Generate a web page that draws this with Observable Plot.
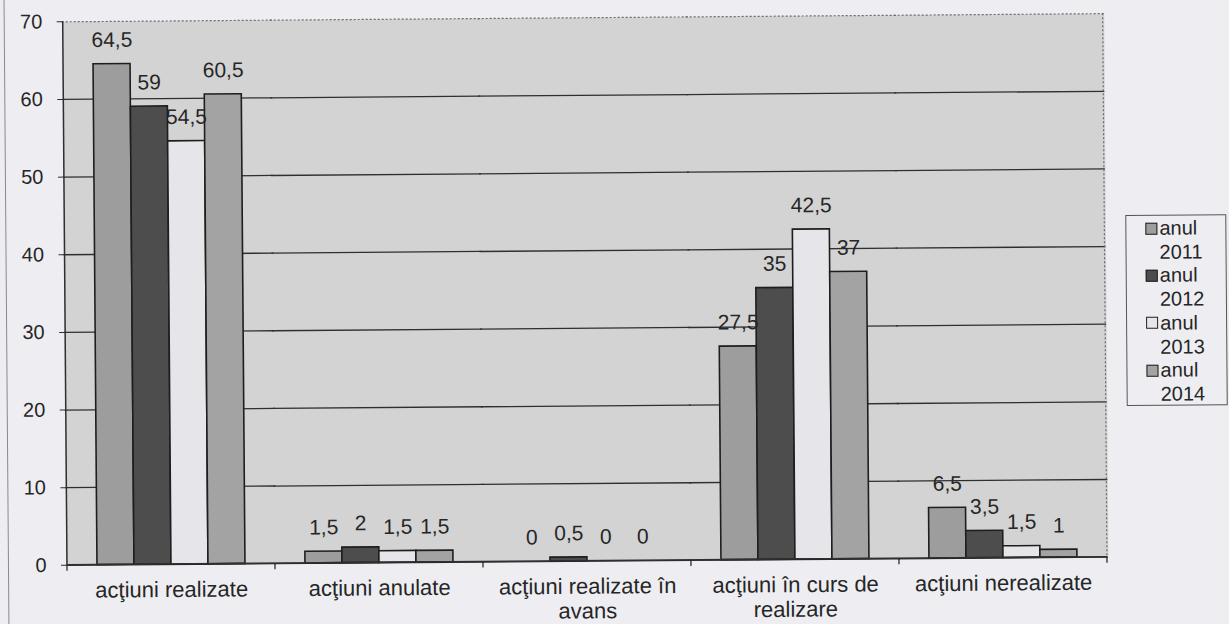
<!DOCTYPE html>
<html>
<head>
<meta charset="utf-8">
<script src="https://cdn.jsdelivr.net/npm/d3@7"></script>
<script src="https://cdn.jsdelivr.net/npm/@observablehq/plot@0.6"></script>
<style>
  html, body { margin: 0; padding: 0; background: #eeeef2; }
  #wrap { position: relative; width: 1229px; height: 624px; overflow: visible;
          transform: rotate(-0.45deg); transform-origin: 614px 312px; }
  #border { position: absolute; left: 6px; top: -10px; width: 1px; height: 650px; background: #8a8a8a; }
  #legend { position: absolute; left: 1126px; top: 219px; width: 99px; height: 188px;
            border: 1px solid #555; box-sizing: content-box;
            font-family: 'Liberation Sans', Arial, sans-serif; font-size: 20px; color: #262626;
            padding-top: 1px; }
  .entry { display: flex; align-items: flex-start; line-height: 23.7px; }
  .sw { display: inline-block; width: 10px; height: 10px; border: 1.5px solid #222;
        margin-top: 5.5px; margin-left: 19px; margin-right: 2px; flex: none; }
</style>
</head>
<body>
<div id="wrap">
  <div id="border"></div>
  <div id="chart"></div>
  <div id="legend"></div>
</div>
<script>
// ---- data ----
const categories = [
  "acţiuni realizate",
  "acţiuni anulate",
  "acţiuni realizate în avans",
  "acţiuni în curs de realizare",
  "acţiuni nerealizate"
];
const categoryTickLabels = [
  "acţiuni realizate",
  "acţiuni anulate",
  "acţiuni realizate în\navans",
  "acţiuni în curs de\nrealizare",
  "acţiuni nerealizate"
];
const years = ["2011", "2012", "2013", "2014"];
const legendPrefix = "anul";
const v2011 = [64.5, 1.5, 0, 27.5, 6.5];
const v2012 = [59, 2, 0.5, 35, 3.5];
const v2013 = [54.5, 1.5, 0, 42.5, 1.5];
const v2014 = [60.5, 1.5, 0, 37, 1];
const yTicks = [0, 10, 20, 30, 40, 50, 60, 70];
const gridValues = [0, 10, 20, 30, 40, 50, 60];
const yMax = 70;

// ---- styles ----
const colors = ["#9d9d9d", "#4d4d4d", "#e6e6ea", "#a3a3a3"];
const plotBg = "#d3d3d3";
const ink = "#262626";
const lineInk = "#2f2f2f";

const series = [v2011, v2012, v2013, v2014];
const data = [];
categories.forEach((c, i) => {
  years.forEach((y, j) => data.push({category: c, year: y, value: series[j][i]}));
});
const labelMap = new Map(categories.map((c, i) => [c, categoryTickLabels[i]]));
const fmt = v => String(v).replace(".", ",");

const plot = Plot.plot({
  width: 1229,
  height: 624,
  marginTop: 17,
  marginBottom: 63.5,
  marginLeft: 63,
  marginRight: 123,
  style: {background: "transparent", fontFamily: "'Liberation Sans', Arial, sans-serif", color: ink, fontSize: "20px"},
  fx: {domain: categories, padding: 0, label: null},
  x: {domain: years, paddingInner: 0, paddingOuter: 0.75, axis: null},
  y: {domain: [0, yMax], label: null},
  color: {domain: years, range: colors},
  marks: [
    Plot.frame({fill: plotBg, stroke: "none", insetLeft: -1, insetRight: -1}),
    Plot.ruleY(gridValues, {stroke: lineInk, strokeWidth: 1.3, insetLeft: -1, insetRight: -1}),
    Plot.ruleY([yMax], {stroke: "#6a6a6a", strokeWidth: 1.2, strokeDasharray: "2,2", insetLeft: -1, insetRight: -1}),
    Plot.barY(data, {fx: "category", x: "year", y: "value", fill: "year", stroke: "#1e1e1e", strokeWidth: 1.6}),
    Plot.text(data, {fx: "category", x: "year", y: "value", text: d => fmt(d.value), dy: -24, fontSize: 21, fill: ink}),
    Plot.axisY(yTicks, {tickSize: 6, tickPadding: 15, fontSize: 20, label: null, stroke: lineInk}),
    Plot.axisFx({anchor: "bottom", tickSize: 0, tickPadding: 15, fontSize: 22, lineHeight: 1.12, label: null, tickFormat: d => labelMap.get(d)})
  ]
});
document.getElementById("chart").appendChild(plot);

// boundary ticks, axis line and right border from the plot's own scales
const fxS = plot.scale("fx");
const yS = plot.scale("y");
const y0 = yS.apply(0), yTop = yS.apply(yMax);
const edges = categories.map(c => fxS.apply(c));
edges.push(edges[edges.length - 1] + fxS.bandwidth);
const svg = d3.select(plot);
const g = svg.append("g").attr("fill", "none");
g.append("line").attr("x1", edges[edges.length - 1]).attr("x2", edges[edges.length - 1])
  .attr("y1", yTop).attr("y2", y0).attr("stroke", "#6a6a6a").attr("stroke-width", 1.2).attr("stroke-dasharray", "2,2");
g.append("line").attr("x1", edges[0]).attr("x2", edges[0])
  .attr("y1", yTop).attr("y2", y0).attr("stroke", lineInk).attr("stroke-width", 1.5);
g.append("line").attr("x1", edges[0]).attr("x2", edges[edges.length - 1])
  .attr("y1", y0).attr("y2", y0).attr("stroke", lineInk).attr("stroke-width", 1.5);
edges.forEach(x => {
  g.append("line").attr("x1", x).attr("x2", x).attr("y1", y0).attr("y2", y0 + 6)
    .attr("stroke", lineInk).attr("stroke-width", 1.3);
});

// legend
const legend = document.getElementById("legend");
years.forEach((y, i) => {
  const e = document.createElement("div");
  e.className = "entry";
  const sw = document.createElement("span");
  sw.className = "sw";
  sw.style.background = colors[i];
  const t = document.createElement("span");
  t.innerHTML = legendPrefix + "<br>" + y;
  e.appendChild(sw); e.appendChild(t);
  legend.appendChild(e);
});
</script>
</body>
</html>
